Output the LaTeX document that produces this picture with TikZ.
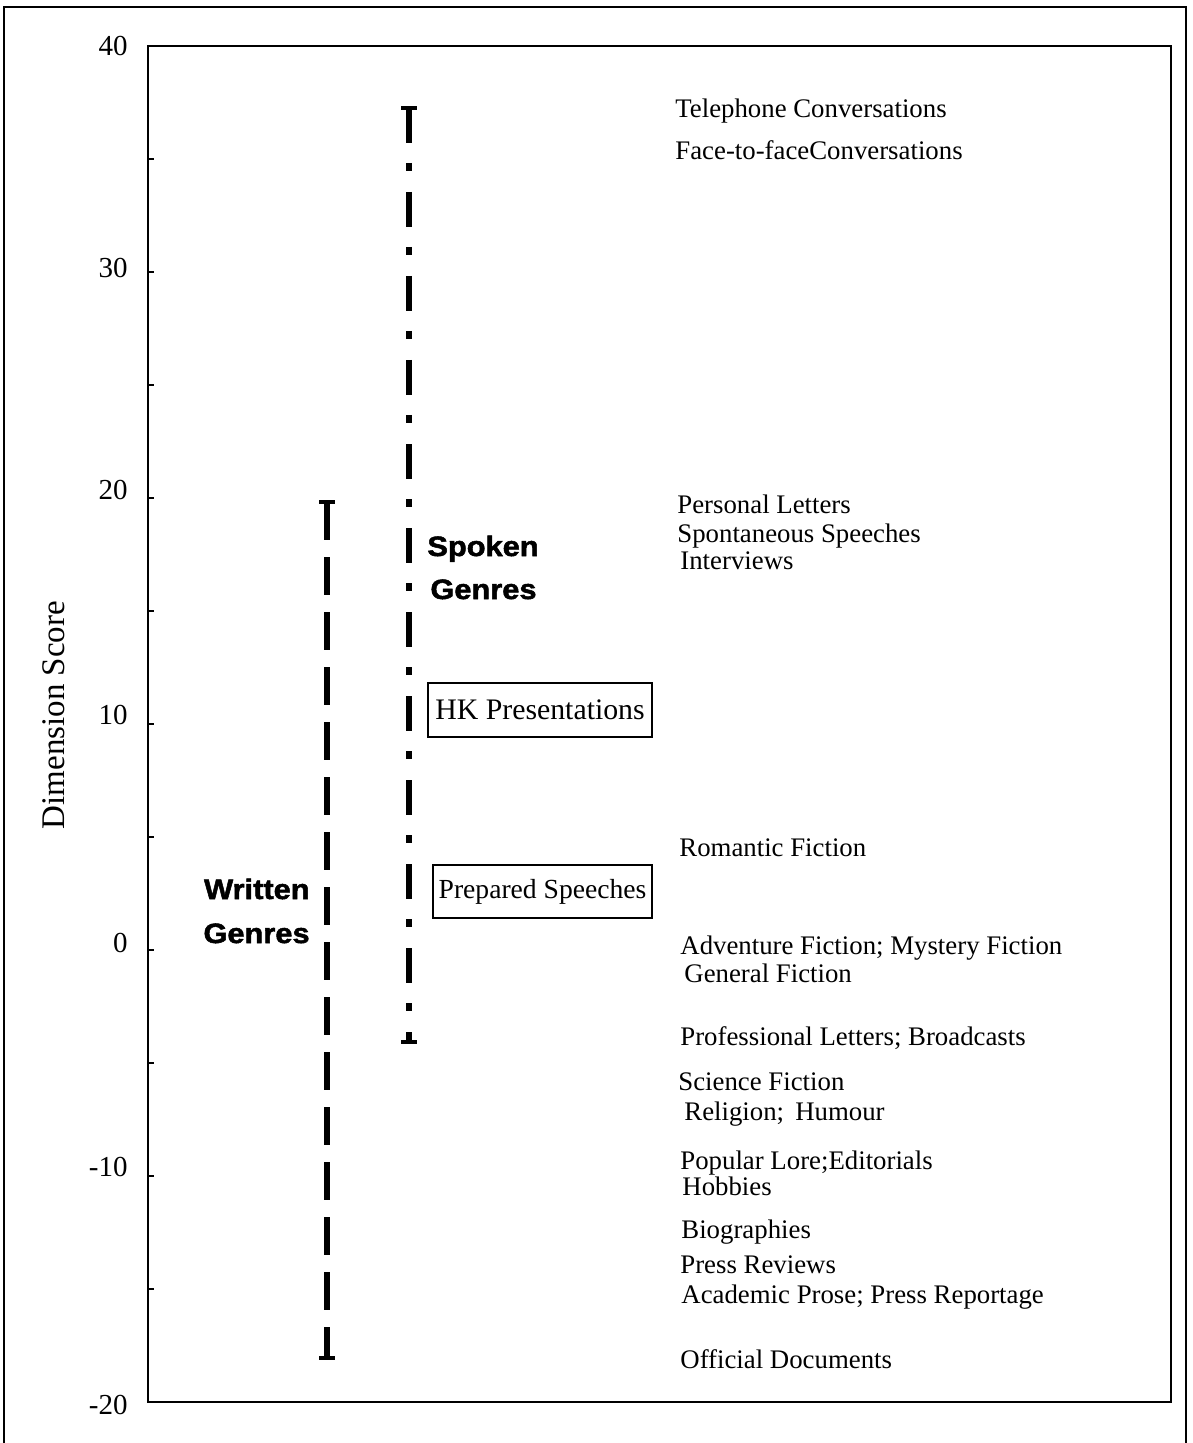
\documentclass[tikz,border=0pt]{standalone}
\usepackage{fontspec}
\setmainfont{Liberation Serif}
\newfontfamily\genrefont{Liberation Sans}[FakeStretch=1.1,BoldFeatures={FakeBold=1.8}]
\usetikzlibrary{calc}

\begin{document}
\begin{tikzpicture}[x=0.5pt,y=-0.5pt,
  frame/.style={line width=0.9pt},
  tickmark/.style={line width=0.6pt},
  ticklabel/.style={anchor=east,inner sep=0pt,font=\fontsize{14.5}{16}\selectfont},
  genre/.style={anchor=base west,inner sep=0pt,text=black,font=\genrefont\bfseries\fontsize{14}{16}\selectfont},
  register/.style={anchor=base west,inner sep=0pt,font=\fontsize{13.4}{16}\selectfont},
  boxed/.style={draw,line width=0.7pt,inner sep=0pt},
  writtenline/.style={line width=2.6pt,dash pattern=on 19pt off 8.5pt},
  spokenline/.style={line width=2.8pt,dash pattern=on 17.5pt off 10pt on 4pt off 10.5pt},
  endbar/.style={line width=2pt}]
\useasboundingbox (0,0) rectangle (1192,1443);

% outer frame (open at the bottom)
\draw[frame] (4,1443) -- (4,7) -- (1186,7) -- (1186,1443);

% plot area
\draw[frame] (148,46) rectangle (1171,1402);

% y axis: minor ticks every 5, labels every 10
\foreach \s in {-15,-10,...,35}
  \draw[tickmark] (148,{46+(40-\s)*22.6}) -- ++(6,0);
\foreach \s/\ypos [count=\i] in {40/46,30/268,20/490,10/715,0/943,-10/1167,-20/1405}
  \node[ticklabel] (tick\i) at (128,\ypos) {\s};

\node[rotate=90,inner sep=0pt,font=\fontsize{16.5}{18}\selectfont] (ylabel) at (54,715) {Dimension Score};

% range of written genres
\coordinate (wtop) at (327,502);
\coordinate (wbot) at (327,1358);
\draw[writtenline] (wtop) -- (wbot);
\draw[endbar] ($(wtop)+(-8,0)$) -- ($(wtop)+(8,0)$);
\draw[endbar] ($(wbot)+(-8,0)$) -- ($(wbot)+(8,0)$);

% range of spoken genres
\coordinate (stop) at (409,108);
\coordinate (sbot) at (409,1042);
\draw[spokenline] (stop) -- (sbot);
\draw[endbar] ($(stop)+(-8,0)$) -- ($(stop)+(8,0)$);
\draw[endbar] ($(sbot)+(-8,0)$) -- ($(sbot)+(8,0)$);

% group labels
\node[genre] (spoken1) at (427,556) {Spoken};
\node[genre] (spoken2) at (430,599) {Genres};
\node[genre,anchor=base east] (written1) at (310,899) {Written};
\node[genre,anchor=base east] (written2) at (310,943) {Genres};

% the two boxed registers
\node[boxed,minimum width=112pt,minimum height=27pt,font=\fontsize{14.9}{16}\selectfont] (hk) at (540,710) {HK Presentations};
\node[boxed,minimum width=109.5pt,minimum height=26.5pt,font=\fontsize{13.8}{16}\selectfont] (prep) at (542.5,891.5) {Prepared Speeches};

% register names along the scale
\node[register] (r1)  at (675,118)  {Telephone Conversations};
\node[register] (r2)  at (675,160)  {Face-to-faceConversations};
\node[register] (r3)  at (677,513)  {Personal Letters};
\node[register] (r4)  at (677,542)  {Spontaneous Speeches};
\node[register] (r5)  at (680,569)  {Interviews};
\node[register] (r6)  at (679,856)  {Romantic Fiction};
\node[register] (r7)  at (680,954)  {Adventure Fiction; Mystery Fiction};
\node[register] (r8)  at (684,982)  {General Fiction};
\node[register] (r9)  at (680,1045) {Professional Letters; Broadcasts};
\node[register] (r10) at (678,1090) {Science Fiction};
\node[register] (r11) at (684,1120) {Religion;\, Humour};
\node[register] (r12) at (680,1169) {Popular Lore;Editorials};
\node[register] (r13) at (682,1195) {Hobbies};
\node[register] (r14) at (681,1238) {Biographies};
\node[register] (r15) at (680,1273) {Press Reviews};
\node[register] (r16) at (681,1303) {Academic Prose; Press Reportage};
\node[register] (r17) at (680,1368) {Official Documents};
\end{tikzpicture}
\end{document}
